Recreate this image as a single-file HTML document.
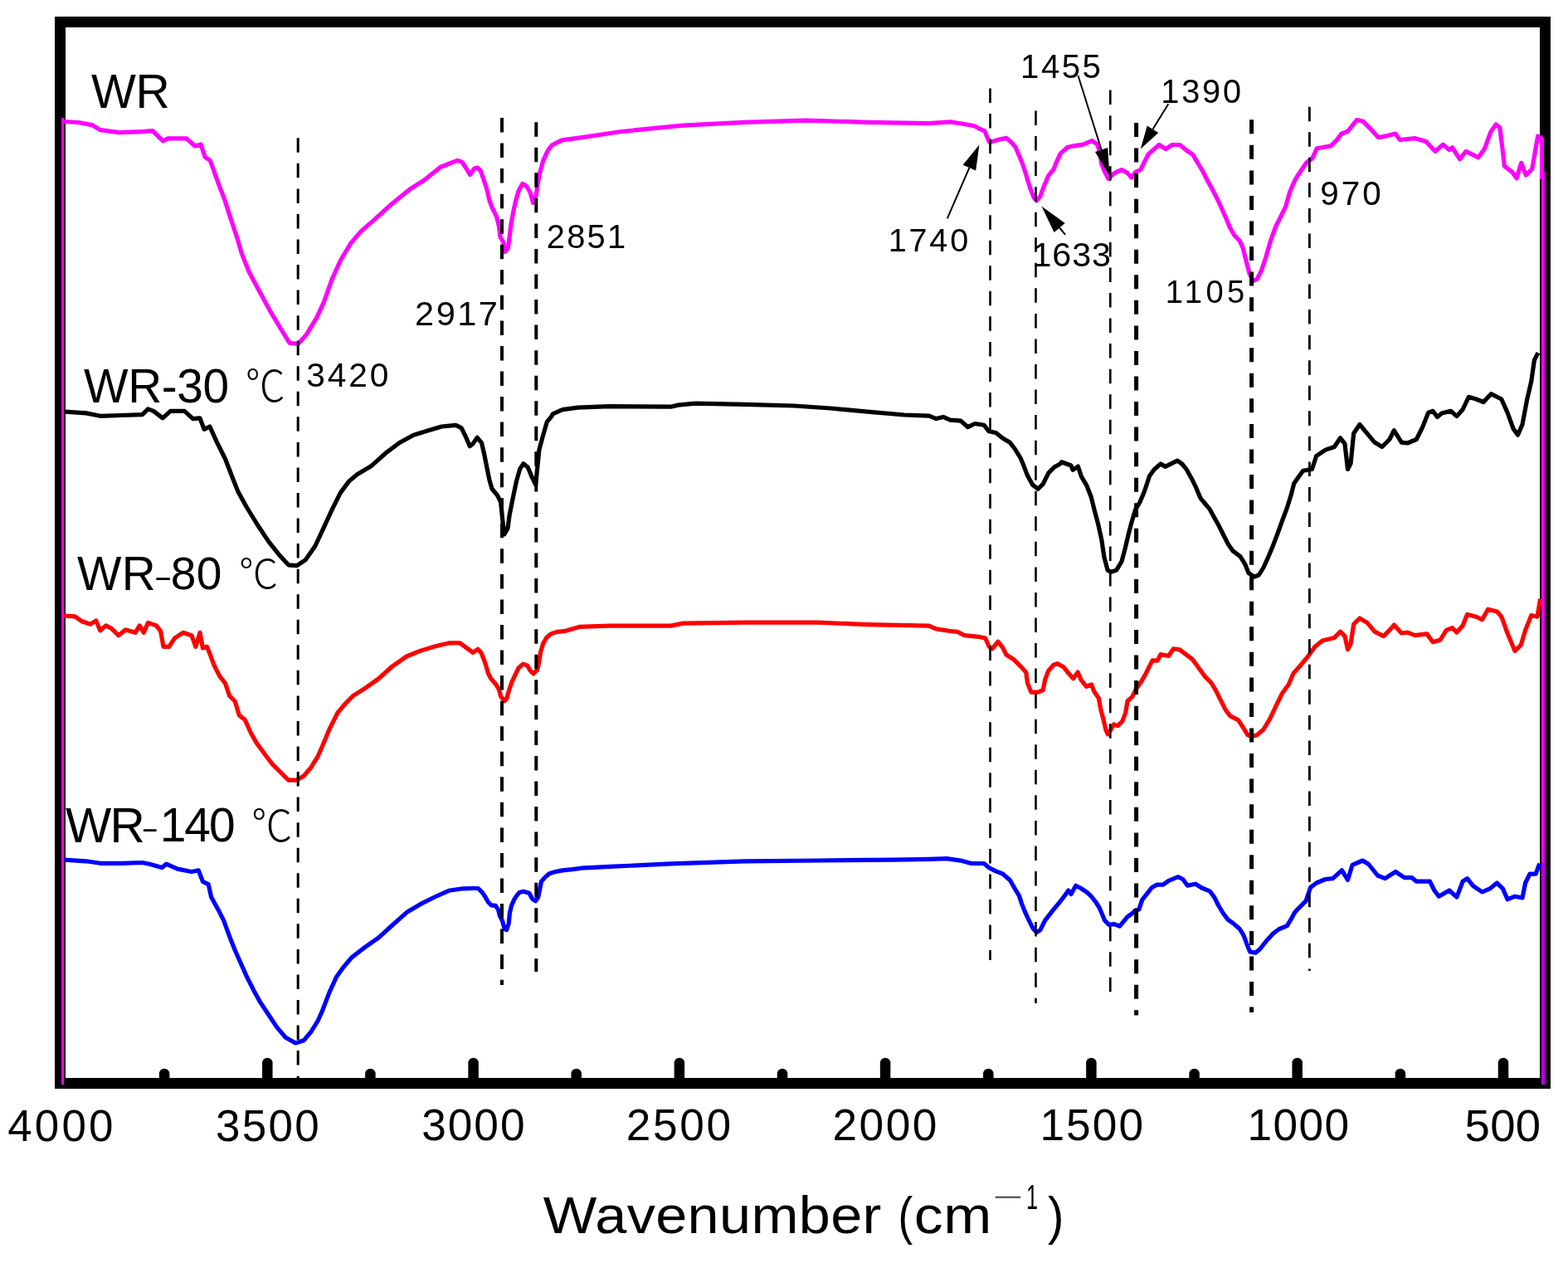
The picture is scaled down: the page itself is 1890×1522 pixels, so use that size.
<!DOCTYPE html><html><head><meta charset="utf-8"><title>FTIR</title><style>html,body{margin:0;padding:0;background:#fff;}svg{display:block;}</style></head><body>
<svg width="1890" height="1522" viewBox="0 0 1890 1522">
<rect x="0" y="0" width="1890" height="1522" fill="#fff"/>
<rect x="72.5" y="26.5" width="1790" height="1279" fill="none" stroke="#000" stroke-width="13" stroke-linejoin="miter"/>
<polyline points="76.0,146.5 94.4,147.5 110.7,150.6 121.0,156.7 143.3,159.7 171.9,158.7 184.0,157.7 196.3,169.9 202.4,166.9 224.8,166.9 235.0,176.0 242.0,174.0 247.2,189.3 253.3,193.3 263.5,221.9 270.6,240.2 277.8,262.6 285.9,287.0 292.0,307.4 300.2,327.8 314.4,354.3 326.7,376.7 338.9,397.0 349.1,413.3 359.3,414.4 369.4,403.2 381.7,382.8 390.2,364.4 400.4,335.9 410.6,313.5 422.8,293.2 435.0,278.9 451.3,264.6 471.7,246.3 494.1,228.0 510.4,217.8 530.7,201.5 551.1,193.3 557.2,195.4 562.0,203.0 566.5,210.5 571.8,203.0 575.5,202.1 579.2,205.7 583.8,218.6 587.5,230.6 590.2,242.5 593.9,251.7 598.5,260.9 601.3,272.0 603.1,285.7 606.8,292.0 608.6,303.5 612.3,299.5 614.1,285.7 616.0,270.1 618.7,255.4 621.5,242.5 625.2,229.7 629.8,221.4 634.4,224.1 639.0,231.5 642.6,244.4 646.3,235.2 648.2,221.4 650.9,207.6 654.6,193.8 660.1,181.8 665.2,175.0 677.4,168.9 699.8,165.8 749.3,158.5 823.3,151.1 897.4,147.3 971.5,145.2 1045.6,147.3 1120.0,148.6 1145.4,146.9 1166.6,150.3 1175.0,152.0 1181.0,155.4 1186.9,157.9 1190.3,166.4 1192.8,171.5 1198.7,169.8 1204.7,168.1 1213.1,166.4 1219.9,172.3 1224.1,177.4 1228.4,187.6 1232.6,197.7 1236.0,207.9 1238.5,216.4 1241.9,227.4 1246.2,238.4 1249.6,241.8 1253.8,236.7 1258.9,223.1 1263.9,211.3 1270.0,204.0 1273.8,194.4 1278.3,184.9 1287.1,177.3 1297.3,175.4 1305.6,174.1 1316.3,169.7 1322.7,174.1 1325.2,181.7 1327.8,197.6 1331.6,207.1 1336.0,215.4 1341.1,210.3 1346.2,207.1 1351.9,204.6 1358.9,208.4 1364.0,214.1 1369.0,207.1 1374.8,204.6 1379.2,195.7 1384.3,185.6 1389.4,181.1 1397.1,174.5 1405.0,179.7 1412.9,174.5 1422.0,174.5 1429.9,181.0 1437.8,186.3 1443.1,195.5 1449.6,206.0 1456.2,219.1 1462.8,231.0 1469.4,244.1 1475.9,258.6 1482.5,274.3 1487.8,283.5 1494.3,290.1 1498.3,299.3 1502.2,315.1 1506.1,329.5 1510.1,338.7 1515.3,336.1 1520.6,325.6 1525.9,309.8 1531.1,291.4 1537.7,273.0 1544.3,259.9 1549.5,249.4 1554.8,231.0 1560.0,219.1 1563.3,213.0 1574.4,196.3 1581.9,190.7 1587.4,178.7 1604.1,175.9 1611.5,168.5 1617.0,161.1 1624.4,158.3 1635.6,144.4 1643.0,146.3 1652.2,155.6 1661.5,165.7 1670.7,163.9 1681.9,161.1 1687.4,168.5 1705.9,166.7 1718.9,170.4 1730.0,182.4 1739.3,174.1 1746.7,180.6 1750.4,177.8 1759.6,191.7 1767.0,182.4 1781.9,189.8 1789.3,179.6 1796.7,159.3 1803.1,150.0 1807.8,153.7 1811.5,183.3 1813.3,200.0 1822.6,207.4 1828.1,214.8 1833.7,196.3 1839.3,211.1 1846.7,203.7 1850.5,182.0 1853.7,164.0 1858.5,167.0 1858.5,216.0" fill="none" stroke="#ff00ff" stroke-width="5.2" stroke-linejoin="round" stroke-linecap="butt"/>
<polyline points="78.5,496.2 103.9,497.9 120.8,501.3 146.2,500.5 171.6,499.6 178.4,492.9 185.1,495.4 196.1,503.9 205.5,495.4 222.4,495.4 232.5,504.7 241.0,503.9 246.1,517.4 252.9,514.0 261.3,532.6 271.5,553.0 280.0,575.0 286.7,591.9 296.9,610.5 310.4,632.5 324.0,652.9 337.5,669.8 347.7,680.8 357.8,681.7 368.0,674.9 379.9,658.0 390.2,635.9 400.3,613.9 410.5,593.6 420.6,580.1 430.8,571.6 447.7,561.4 464.7,546.2 481.6,533.5 498.5,524.2 515.5,519.1 532.4,514.0 549.3,512.3 556.1,515.7 561.2,525.9 566.3,537.7 570.0,534.7 575.3,527.3 580.5,533.6 583.7,547.3 586.8,563.0 590.0,578.8 593.1,589.3 599.4,596.7 603.6,605.1 605.7,626.1 607.8,644.0 612.0,636.6 614.1,620.8 618.3,599.8 622.5,579.9 626.7,565.1 630.9,558.8 636.2,563.0 641.5,575.7 645.7,584.1 647.8,563.0 649.9,542.0 654.1,526.3 659.3,508.4 664.6,502.1 666.2,498.8 678.0,493.7 696.6,491.2 734.4,489.6 808.5,490.2 817.4,488.1 838.1,486.1 897.4,487.3 956.7,489.0 1001.1,492.0 1045.6,496.1 1090.0,500.0 1120.0,501.2 1128.5,504.6 1136.9,502.4 1145.4,506.2 1158.1,507.1 1166.6,514.7 1175.0,510.5 1186.0,512.2 1192.0,519.8 1200.4,521.5 1208.9,528.3 1217.4,533.3 1223.3,541.0 1230.1,552.0 1234.3,562.1 1238.5,573.1 1244.5,584.1 1251.2,589.2 1257.2,583.3 1263.9,569.8 1270.7,563.0 1278.3,558.7 1279.5,556.8 1291.0,561.0 1293.1,566.3 1299.4,562.1 1303.6,574.7 1309.9,585.2 1315.2,598.8 1319.4,615.7 1323.6,631.4 1327.8,650.3 1330.9,671.3 1335.1,687.1 1339.3,689.2 1345.7,687.1 1352.0,676.6 1356.2,660.8 1360.4,643.0 1364.6,627.2 1368.8,613.6 1374.0,605.1 1379.3,592.5 1385.6,573.5 1391.2,565.7 1399.0,559.0 1404.6,562.3 1413.5,557.9 1419.1,555.1 1424.7,559.0 1430.2,565.7 1435.8,575.7 1441.4,586.9 1447.0,600.3 1452.6,607.0 1458.2,613.7 1463.7,623.7 1469.3,633.8 1474.9,645.0 1480.5,656.1 1486.1,663.9 1495.0,670.6 1500.6,679.6 1505.1,690.7 1511.8,695.2 1517.3,693.0 1522.9,684.0 1528.5,671.8 1534.1,658.4 1539.7,643.8 1545.3,628.2 1550.8,613.7 1556.4,595.8 1559.8,582.4 1570.6,567.3 1581.4,565.5 1586.8,549.3 1597.6,542.1 1608.4,538.5 1615.6,527.7 1621.0,534.9 1624.5,565.5 1628.1,558.3 1631.7,522.3 1638.9,511.5 1647.9,522.3 1656.9,533.1 1665.9,538.5 1674.9,529.5 1680.3,518.7 1689.3,533.1 1696.5,534.0 1707.3,529.5 1714.5,515.1 1721.7,497.1 1727.1,495.3 1732.5,502.5 1737.9,498.0 1748.7,495.3 1755.9,501.6 1763.1,493.5 1770.3,478.3 1779.3,481.0 1788.2,484.5 1797.2,474.7 1809.8,481.0 1817.0,497.1 1824.2,516.9 1829.6,524.1 1835.0,511.5 1840.4,482.7 1845.8,459.4 1849.4,434.2 1853.9,425.2" fill="none" stroke="#000000" stroke-width="5.2" stroke-linejoin="round" stroke-linecap="butt"/>
<polyline points="76.8,742.0 90.3,742.9 98.8,748.8 108.9,752.2 115.7,747.9 120.8,759.8 127.6,753.9 134.3,757.3 142.8,765.7 151.3,758.9 163.1,762.3 168.2,753.9 173.3,762.3 178.4,750.5 188.5,753.9 193.6,760.6 197.0,779.3 203.8,779.3 210.5,769.1 220.7,762.3 230.9,765.7 235.9,779.3 241.0,762.3 244.4,781.0 249.5,779.3 252.9,787.7 257.9,801.3 264.7,814.8 271.5,823.3 276.6,838.5 283.3,845.3 288.4,862.2 295.2,867.3 302.0,882.5 308.7,894.4 317.2,906.3 327.4,919.8 337.5,930.0 347.7,940.1 357.8,940.1 366.3,935.0 374.8,924.9 383.2,911.3 388.5,899.3 396.9,879.0 407.1,858.7 417.3,846.8 425.7,838.4 439.3,829.9 456.2,818.0 473.1,802.8 490.1,791.0 507.0,784.2 523.9,779.1 540.9,774.9 554.4,774.9 570.0,786.3 575.9,782.3 579.9,786.3 583.1,794.2 585.8,802.1 588.4,811.3 591.7,817.8 597.6,824.4 601.5,831.0 603.5,838.9 608.1,844.8 610.7,842.1 613.4,832.3 616.7,822.4 621.3,812.6 625.2,804.7 630.5,800.1 635.7,802.1 639.0,808.0 642.9,811.9 647.5,807.3 649.5,799.4 651.5,786.3 654.8,775.1 658.7,768.5 664.0,763.9 671.9,761.3 681.7,760.3 698.3,755.4 734.4,754.1 808.5,754.1 823.3,751.1 897.4,750.2 986.3,750.2 1045.6,752.6 1119.6,754.1 1128.5,757.9 1145.4,760.5 1153.9,761.3 1162.3,765.6 1179.3,767.3 1187.7,769.0 1192.0,779.1 1196.2,781.7 1203.0,773.2 1208.9,780.8 1213.1,789.3 1221.6,794.4 1230.1,802.8 1236.8,810.4 1238.5,823.1 1242.8,834.1 1251.2,834.1 1257.2,831.6 1259.7,818.9 1263.9,807.9 1270.0,801.3 1274.7,799.7 1281.8,803.7 1288.1,811.5 1293.7,817.8 1299.2,810.0 1303.1,819.4 1309.4,827.3 1315.7,824.9 1318.9,833.6 1324.4,841.5 1326.8,854.9 1329.9,866.7 1333.1,880.1 1335.4,884.9 1339.4,878.6 1342.5,873.0 1347.3,874.6 1352.8,869.1 1356.7,858.8 1359.1,844.7 1364.6,839.9 1369.3,830.5 1374.9,822.6 1380.4,813.1 1385.1,803.7 1389.1,795.8 1395.2,796.2 1399.0,788.6 1408.6,790.5 1414.3,781.9 1421.9,782.9 1429.5,788.6 1437.1,794.3 1444.8,804.8 1452.4,815.2 1460.0,822.9 1465.7,832.4 1471.4,843.8 1477.1,855.2 1482.9,862.9 1492.4,867.6 1498.1,876.2 1503.8,885.7 1508.6,887.6 1515.2,885.7 1522.9,879.0 1530.5,866.7 1538.1,850.5 1545.7,835.2 1553.3,824.8 1559.0,811.4 1567.0,802.5 1576.0,791.7 1585.0,779.2 1594.0,772.0 1608.4,768.4 1615.6,761.2 1621.0,766.6 1624.5,782.7 1628.1,775.6 1631.7,752.2 1638.9,745.0 1647.9,750.4 1656.9,761.2 1667.7,766.6 1674.9,759.4 1680.3,753.1 1689.3,763.0 1696.5,762.1 1705.5,765.7 1719.9,763.9 1727.1,773.8 1736.1,771.1 1743.3,759.4 1750.5,756.7 1755.9,762.1 1763.1,754.0 1768.5,740.5 1779.3,743.2 1786.4,746.8 1793.6,734.2 1804.4,736.9 1809.8,743.2 1817.0,763.0 1826.0,784.5 1833.2,777.4 1838.6,759.4 1845.8,741.4 1853.0,743.2 1856.6,721.6" fill="none" stroke="#ff0000" stroke-width="5.2" stroke-linejoin="round" stroke-linecap="butt"/>
<polyline points="77.6,1036.1 103.9,1037.8 120.8,1040.3 146.2,1040.3 171.6,1039.5 180.1,1041.2 195.3,1045.4 200.4,1041.2 213.9,1047.1 230.9,1050.5 239.3,1048.8 244.4,1062.3 251.2,1065.7 254.6,1081.0 263.0,1096.2 269.8,1109.7 276.6,1128.4 283.3,1145.3 290.1,1160.5 296.9,1175.8 305.4,1192.7 313.8,1207.9 324.0,1223.2 334.1,1238.4 344.3,1250.3 356.2,1257.0 366.3,1253.7 374.8,1243.5 383.2,1230.0 388.5,1218.1 396.9,1196.1 405.4,1177.5 413.9,1165.6 424.0,1153.8 439.3,1141.9 456.2,1130.1 473.1,1114.8 490.1,1099.6 507.0,1089.4 523.9,1081.0 540.9,1073.3 557.8,1070.8 570.0,1070.5 576.3,1070.5 581.4,1075.6 585.2,1081.3 588.4,1087.0 592.2,1090.8 597.3,1091.4 600.5,1095.9 602.4,1103.5 605.6,1109.8 608.1,1119.4 610.6,1120.6 613.2,1113.0 614.4,1100.3 616.3,1092.1 619.5,1084.4 622.7,1079.4 625.9,1075.6 631.0,1074.3 637.9,1076.2 641.7,1083.2 645.6,1085.7 648.7,1081.3 650.6,1071.7 652.5,1062.2 657.0,1057.1 662.1,1052.7 668.4,1050.8 677.9,1048.9 690.0,1047.6 700.0,1046.2 734.4,1044.4 808.5,1040.9 897.4,1037.9 986.3,1037.0 1075.2,1036.1 1120.0,1035.4 1141.2,1034.6 1158.1,1037.1 1170.8,1040.5 1186.0,1040.5 1192.0,1045.6 1200.4,1049.8 1208.9,1053.2 1217.4,1060.8 1223.3,1071.0 1228.4,1079.4 1231.8,1089.6 1235.2,1098.1 1240.2,1109.1 1245.3,1119.2 1249.6,1123.5 1253.8,1120.9 1259.7,1109.1 1268.2,1098.1 1270.0,1095.9 1276.3,1088.3 1281.4,1081.9 1287.8,1073.0 1291.0,1077.5 1296.7,1067.3 1303.0,1070.5 1310.6,1075.6 1315.7,1080.6 1320.8,1087.0 1325.2,1094.0 1328.4,1101.6 1331.6,1109.2 1336.7,1114.3 1343.0,1113.7 1349.4,1116.2 1353.8,1111.1 1358.9,1104.8 1365.2,1100.3 1368.4,1097.1 1372.9,1095.9 1376.7,1084.4 1381.7,1078.1 1388.1,1069.8 1394.3,1066.2 1401.9,1066.2 1408.6,1061.4 1420.0,1056.7 1425.7,1059.5 1431.4,1067.1 1441.0,1065.2 1448.6,1070.0 1458.1,1073.8 1463.8,1081.4 1468.6,1091.0 1474.3,1100.5 1480.0,1108.1 1486.7,1112.9 1494.3,1119.5 1499.0,1127.1 1502.9,1137.6 1506.7,1147.1 1513.3,1148.1 1518.1,1144.3 1525.7,1134.8 1534.3,1125.2 1541.9,1119.5 1551.4,1115.7 1557.1,1106.2 1560.0,1100.5 1563.4,1096.3 1574.2,1085.6 1579.6,1069.4 1586.8,1064.0 1597.6,1059.5 1606.6,1058.6 1617.4,1048.7 1624.5,1060.4 1630.0,1042.4 1642.5,1037.0 1649.7,1041.5 1660.5,1055.0 1669.5,1058.6 1682.1,1050.5 1692.9,1057.7 1701.9,1057.7 1707.3,1062.2 1723.5,1062.2 1728.9,1073.0 1734.3,1080.2 1746.9,1073.0 1755.9,1081.1 1763.1,1062.2 1768.5,1058.6 1775.7,1067.6 1786.4,1074.8 1795.4,1071.2 1804.4,1064.0 1811.6,1071.2 1817.0,1083.8 1826.0,1080.2 1835.0,1082.0 1838.6,1064.0 1844.0,1053.2 1851.2,1053.2 1855.7,1040.6" fill="none" stroke="#0000ff" stroke-width="5.2" stroke-linejoin="round" stroke-linecap="butt"/>
<rect x="74" y="142" width="3" height="1165" fill="#ff00ff"/>
<rect x="1858" y="207" width="3" height="832" fill="#ff00ff"/>
<rect x="1861" y="207" width="2.5" height="832" fill="#b000b0"/>
<rect x="1858" y="1039" width="3" height="268" fill="#b000ff"/>
<rect x="1861" y="1039" width="2.5" height="268" fill="#a000b0"/>
<g stroke="#000" stroke-width="12.5" stroke-linecap="round"><line x1="198.1" y1="1300" x2="198.1" y2="1294"/><line x1="322.3" y1="1300" x2="322.3" y2="1281"/><line x1="446.4" y1="1300" x2="446.4" y2="1294"/><line x1="570.6" y1="1300" x2="570.6" y2="1281"/><line x1="694.7" y1="1300" x2="694.7" y2="1294"/><line x1="818.9" y1="1300" x2="818.9" y2="1281"/><line x1="943.0" y1="1300" x2="943.0" y2="1294"/><line x1="1067.1" y1="1300" x2="1067.1" y2="1281"/><line x1="1191.3" y1="1300" x2="1191.3" y2="1294"/><line x1="1315.4" y1="1300" x2="1315.4" y2="1281"/><line x1="1439.6" y1="1300" x2="1439.6" y2="1294"/><line x1="1563.7" y1="1300" x2="1563.7" y2="1281"/><line x1="1687.9" y1="1300" x2="1687.9" y2="1294"/><line x1="1812.0" y1="1300" x2="1812.0" y2="1281"/></g>
<line x1="359.2" y1="166.3" x2="359.2" y2="1299" stroke="#000" stroke-width="3.0" stroke-dasharray="17.5 13.05"/>
<line x1="605.0" y1="142.0" x2="605.0" y2="1187" stroke="#000" stroke-width="4.0" stroke-dasharray="17.5 13.05"/>
<line x1="646.3" y1="147.2" x2="646.3" y2="1171" stroke="#000" stroke-width="4.0" stroke-dasharray="17.5 13.05"/>
<line x1="1193.5" y1="106.4" x2="1193.5" y2="1157" stroke="#000" stroke-width="2.6" stroke-dasharray="17.5 13.05"/>
<line x1="1248.5" y1="133.5" x2="1248.5" y2="1209" stroke="#000" stroke-width="2.6" stroke-dasharray="17.5 13.05"/>
<line x1="1338.3" y1="108.6" x2="1338.3" y2="1196" stroke="#000" stroke-width="2.6" stroke-dasharray="17.5 13.05"/>
<line x1="1369.6" y1="148.0" x2="1369.6" y2="1223.5" stroke="#000" stroke-width="5.0" stroke-dasharray="17.0 13.55"/>
<line x1="1508.6" y1="144.3" x2="1508.6" y2="1220" stroke="#000" stroke-width="5.0" stroke-dasharray="17.0 13.55"/>
<line x1="1578.4" y1="128.7" x2="1578.4" y2="1170" stroke="#000" stroke-width="2.8" stroke-dasharray="17.5 13.05"/>
<line x1="1141.8" y1="263.3" x2="1168.4" y2="202.1" stroke="#000" stroke-width="2"/>
<polygon points="1180.4,174.6 1176.2,205.5 1160.6,198.7" fill="#000"/>
<line x1="1284.1" y1="282.9" x2="1277.1" y2="274.5" stroke="#000" stroke-width="2"/>
<polygon points="1255.4,248.4 1283.7,269.1 1270.6,280.0" fill="#000"/>
<line x1="1299.4" y1="90.8" x2="1327.6" y2="180.5" stroke="#000" stroke-width="2"/>
<polygon points="1337.5,212 1320.0,182.9 1335.2,178.1" fill="#000"/>
<line x1="1408.3" y1="125.3" x2="1389.5" y2="155.7" stroke="#000" stroke-width="2"/>
<polygon points="1374.8,179.5 1382.7,151.5 1396.3,159.9" fill="#000"/>
<text transform="translate(110.11,130.10) scale(1.0000,1)" font-family='"Liberation Sans", Arial, sans-serif' font-weight="400" font-size="57.10" letter-spacing="-0.43">WR</text>
<text transform="translate(100.92,484.63) scale(1.0000,1)" font-family='"Liberation Sans", Arial, sans-serif' font-weight="400" font-size="56.76" letter-spacing="-0.34">WR-30</text>
<text transform="translate(295.71,484.41) scale(0.9197,1)" font-family='"Noto Sans CJK SC", sans-serif' font-weight="300" font-size="52.34">℃</text>
<text transform="translate(93.12,710.80) scale(1.0000,1)" font-family='"Liberation Sans", Arial, sans-serif' font-weight="400" font-size="56.67" letter-spacing="0.27">WR</text>
<text transform="translate(185.37,712.80) scale(1,0.832)" font-family='"Noto Sans CJK SC", sans-serif' font-weight="300" font-size="67.35" fill="#000">-</text>
<text transform="translate(205.82,710.25) scale(1.0000,1)" font-family='"Liberation Sans", Arial, sans-serif' font-weight="400" font-size="55.07" letter-spacing="0.38">80</text>
<text transform="translate(288.06,708.76) scale(0.9644,1)" font-family='"Noto Sans CJK SC", sans-serif' font-weight="300" font-size="49.09">℃</text>
<text transform="translate(78.91,1014.90) scale(1.0000,1)" font-family='"Liberation Sans", Arial, sans-serif' font-weight="400" font-size="58.55" letter-spacing="-1.77">WR</text>
<text transform="translate(169.92,1015.80) scale(1,0.874)" font-family='"Noto Sans CJK SC", sans-serif' font-weight="300" font-size="64.08" fill="#000">-</text>
<text transform="translate(192.73,1014.33) scale(1.0000,1)" font-family='"Liberation Sans", Arial, sans-serif' font-weight="400" font-size="56.90" letter-spacing="-2.04">140</text>
<text transform="translate(302.93,1014.11) scale(0.9433,1)" font-family='"Noto Sans CJK SC", sans-serif' font-weight="300" font-size="52.47">℃</text>
<text transform="translate(369.37,466.29) scale(1.0000,1)" font-family='"Liberation Sans", Arial, sans-serif' font-weight="400" font-size="40.70" letter-spacing="2.80">3420</text>
<text transform="translate(500.02,392.08) scale(1.0000,1)" font-family='"Liberation Sans", Arial, sans-serif' font-weight="400" font-size="41.55" letter-spacing="2.50">2917</text>
<text transform="translate(658.71,298.90) scale(1.0000,1)" font-family='"Liberation Sans", Arial, sans-serif' font-weight="400" font-size="39.86" letter-spacing="2.27">2851</text>
<text transform="translate(1070.73,303.30) scale(1.0000,1)" font-family='"Liberation Sans", Arial, sans-serif' font-weight="400" font-size="39.58" letter-spacing="2.80">1740</text>
<text transform="translate(1230.08,94.10) scale(1.0000,1)" font-family='"Liberation Sans", Arial, sans-serif' font-weight="400" font-size="40.29" letter-spacing="2.40">1455</text>
<text transform="translate(1399.32,124.40) scale(1.0000,1)" font-family='"Liberation Sans", Arial, sans-serif' font-weight="400" font-size="39.72" letter-spacing="2.80">1390</text>
<text transform="translate(1244.40,320.69) scale(1.0000,1)" font-family='"Liberation Sans", Arial, sans-serif' font-weight="400" font-size="41.27" letter-spacing="0.94">1633</text>
<text transform="translate(1404.84,365.12) scale(1.0000,1)" font-family='"Liberation Sans", Arial, sans-serif' font-weight="400" font-size="38.17" letter-spacing="4.48">1105</text>
<text transform="translate(1591.18,246.80) scale(1.0000,1)" font-family='"Liberation Sans", Arial, sans-serif' font-weight="400" font-size="40.42" letter-spacing="3.12">970</text>
<text transform="translate(9.28,1374.67) scale(1.0000,1)" font-family='"Liberation Sans", Arial, sans-serif' font-weight="400" font-size="52.96" letter-spacing="3.14">4000</text>
<text transform="translate(259.88,1374.67) scale(1.0000,1)" font-family='"Liberation Sans", Arial, sans-serif' font-weight="400" font-size="52.96" letter-spacing="2.34">3500</text>
<text transform="translate(508.27,1374.27) scale(1.0000,1)" font-family='"Liberation Sans", Arial, sans-serif' font-weight="400" font-size="53.24" letter-spacing="1.93">3000</text>
<text transform="translate(754.74,1374.27) scale(1.0000,1)" font-family='"Liberation Sans", Arial, sans-serif' font-weight="400" font-size="53.24" letter-spacing="2.61">2500</text>
<text transform="translate(1003.54,1374.27) scale(1.0000,1)" font-family='"Liberation Sans", Arial, sans-serif' font-weight="400" font-size="53.24" letter-spacing="2.44">2000</text>
<text transform="translate(1253.41,1374.27) scale(1.0000,1)" font-family='"Liberation Sans", Arial, sans-serif' font-weight="400" font-size="53.24" letter-spacing="2.05">1500</text>
<text transform="translate(1503.41,1374.27) scale(1.0000,1)" font-family='"Liberation Sans", Arial, sans-serif' font-weight="400" font-size="53.24" letter-spacing="1.42">1000</text>
<text transform="translate(1765.52,1374.85) scale(1.0000,1)" font-family='"Liberation Sans", Arial, sans-serif' font-weight="400" font-size="54.51" letter-spacing="0.32">500</text>
<text transform="translate(654.86,1486.38) scale(1.1000,1)" font-family='"Liberation Sans", Arial, sans-serif' font-weight="400" font-size="62.18" letter-spacing="0.33">Wavenumber</text>
<text transform="translate(1082.53,1487.15) scale(0.8372,1)" font-family='"Liberation Sans", Arial, sans-serif' font-weight="400" font-size="63.10">(</text>
<text transform="translate(1101.77,1486.38) scale(1.1200,1)" font-family='"Liberation Sans", Arial, sans-serif' font-weight="400" font-size="62.18" letter-spacing="0.57">cm</text>
<text transform="translate(1237.10,1456.80) scale(0.5970,1)" font-family='"Liberation Sans", Arial, sans-serif' font-weight="400" font-size="42.46">1</text>
<text transform="translate(1262.92,1487.15) scale(0.9265,1)" font-family='"Liberation Sans", Arial, sans-serif' font-weight="400" font-size="63.10">)</text>
<text transform="translate(1196.96,1451.87) scale(1,0.454)" font-family='"Liberation Sans", Arial, sans-serif' font-weight="400" font-size="62.89" fill="#444">−</text>
</svg></body></html>
